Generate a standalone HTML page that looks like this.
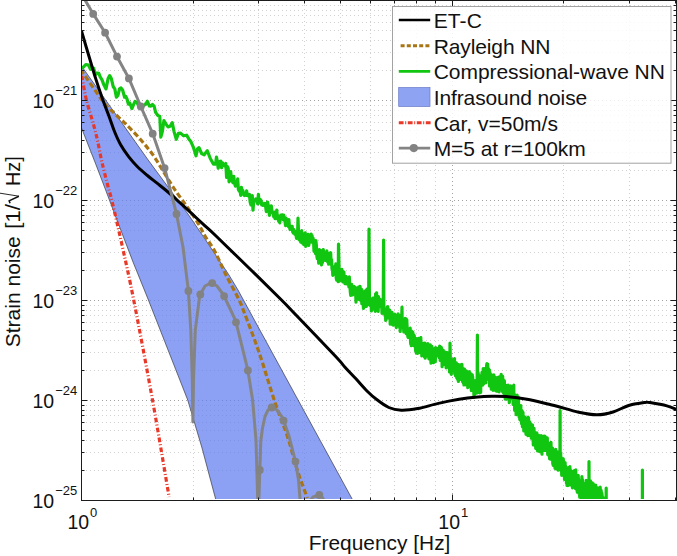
<!DOCTYPE html>
<html><head><meta charset="utf-8"><title>Strain noise</title>
<style>
html,body{margin:0;padding:0;background:#fff;}
body{width:677px;height:556px;overflow:hidden;}
svg{display:block;}
.t{font-family:"Liberation Sans",sans-serif;fill:#111;}
</style></head><body>
<svg width="677" height="556" viewBox="0 0 677 556">
<defs><clipPath id="pc"><rect x="81.5" y="0.5" width="595.0" height="498.5"/></clipPath></defs>
<rect width="677" height="556" fill="#fff"/>
<path d="M193.5 1 V500.5 M258.5 1 V500.5 M304.5 1 V500.5 M340.5 1 V500.5 M370.5 1 V500.5 M394.5 1 V500.5 M416.5 1 V500.5 M435.5 1 V500.5 M563.5 1 V500.5 M629.5 1 V500.5 M82 470.5 H676.5 M82 452.5 H676.5 M82 440.5 H676.5 M82 430.5 H676.5 M82 422.5 H676.5 M82 415.5 H676.5 M82 410.5 H676.5 M82 405.5 H676.5 M82 370.5 H676.5 M82 352.5 H676.5 M82 340.5 H676.5 M82 330.5 H676.5 M82 322.5 H676.5 M82 315.5 H676.5 M82 310.5 H676.5 M82 305.5 H676.5 M82 270.5 H676.5 M82 252.5 H676.5 M82 240.5 H676.5 M82 230.5 H676.5 M82 222.5 H676.5 M82 215.5 H676.5 M82 210.5 H676.5 M82 205.5 H676.5 M82 170.5 H676.5 M82 152.5 H676.5 M82 140.5 H676.5 M82 130.5 H676.5 M82 122.5 H676.5 M82 115.5 H676.5 M82 110.5 H676.5 M82 105.5 H676.5 M82 70.5 H676.5 M82 52.5 H676.5 M82 40.5 H676.5 M82 30.5 H676.5 M82 22.5 H676.5 M82 15.5 H676.5 M82 10.5 H676.5 M82 5.5 H676.5" stroke="#000" stroke-width="1" stroke-dasharray="1 3" fill="none" opacity="0.18"/>
<path d="M452.5 1 V500.5 M82 400.5 H676.5 M82 300.5 H676.5 M82 200.5 H676.5 M82 100.5 H676.5" stroke="#000" stroke-width="1" stroke-dasharray="1 3" fill="none" opacity="0.36"/>
<g clip-path="url(#pc)">
<path d="M81.5 66.0 L102.1 95.0 L148.2 160.0 L188.7 215.0 L205.0 239.0 L229.0 275.0 L238.0 290.0 L353.0 500.5 L216.0 500.5 L202.0 448.0 L187.7 400.0 L170.0 355.0 L148.4 300.0 L133.0 262.0 L115.0 215.0 L106.0 191.0 L95.7 164.0 L81.5 128.0Z" fill="#5f7bf0" fill-opacity="0.72" stroke="#222" stroke-width="0.6"/>
<path d="M81.5 71.0 C81.8 71.3 79.4 67.9 83.0 73.0 C86.6 78.1 98.7 95.7 103.2 101.7 C107.7 107.8 107.1 106.2 110.2 109.3 C113.3 112.4 119.2 117.8 121.9 120.4 C124.7 123.0 123.5 121.5 126.7 124.8 C129.9 128.1 136.7 135.1 141.2 140.3 C145.7 145.5 149.8 150.5 153.6 155.8 C157.4 161.2 160.4 166.9 163.9 172.4 C167.4 177.9 170.9 183.7 174.3 188.9 C177.8 194.1 181.7 199.3 184.6 203.4 C187.5 207.5 189.4 210.1 191.8 213.7 C194.2 217.3 196.8 221.1 199.0 224.8 C201.2 228.5 202.3 231.5 205.0 236.0 C207.7 240.5 211.6 245.3 215.0 251.7 C218.4 258.1 221.7 266.3 225.7 274.4 C229.7 282.4 236.0 293.6 239.1 300.0 C242.2 306.4 241.0 304.1 244.3 312.7 C247.6 321.3 253.6 336.6 258.8 351.7 C264.0 366.8 270.5 389.1 275.3 403.4 C280.1 417.6 283.9 425.7 287.7 437.2 C291.5 448.7 294.7 462.3 298.0 472.4 C301.3 482.5 305.8 493.7 307.4 498.0" fill="none" stroke="#a87414" stroke-width="3.2" stroke-dasharray="5.5 2.8"/>
<path d="M81.5 68.0 L83.3 67.2 L85.8 64.5 L88.4 65.1 L90.5 69.3 L92.0 69.0 L93.6 68.2 L95.7 74.4 L97.2 73.1 L98.8 73.4 L100.3 77.2 L101.9 79.6 L104.0 85.1 L106.0 88.9 L108.1 78.6 L109.7 75.6 L111.2 78.2 L113.3 86.8 L114.8 88.9 L116.4 97.2 L118.0 95.2 L119.5 88.9 L121.0 87.9 L122.6 90.0 L124.6 97.2 L125.8 96.4 L127.0 99.0 L128.4 104.2 L129.8 103.0 L131.9 108.6 L133.4 104.9 L135.0 101.5 L137.0 102.4 L139.1 107.1 L141.2 107.5 L143.2 105.8 L145.3 104.5 L147.4 101.3 L149.4 106.0 L150.9 106.1 L152.5 104.5 L154.1 106.2 L155.6 112.4 L157.7 115.3 L159.8 116.5 L160.8 137.2 L162.4 131.3 L163.9 120.7 L165.9 123.9 L168.0 126.9 L170.1 126.3 L172.2 122.7 L174.2 132.1 L176.3 139.3 L178.4 133.4 L180.5 133.1 L183.6 135.8 L186.7 135.2 L188.8 138.9 L190.8 141.4 L193.4 147.3 L196.0 155.8 L197.5 148.7 L199.0 147.6 L201.6 153.5 L204.2 154.8 L205.8 152.6 L207.3 150.7 L210.4 158.8 L213.5 164.1 L215.6 164.1 L216.5 157.0 L217.4 161.9 L218.2 168.2 L219.1 162.1 L219.9 161.5 L220.8 161.1 L221.6 167.7 L222.5 162.8 L223.3 165.0 L224.2 165.4 L225.0 166.3 L225.8 163.5 L226.6 177.5 L227.4 166.5 L228.2 168.1 L229.1 181.9 L229.9 171.9 L230.7 171.7 L231.5 179.9 L232.2 181.1 L233.0 182.7 L233.8 176.4 L234.6 183.5 L235.4 186.1 L236.1 182.6 L236.9 184.7 L237.7 178.9 L238.4 189.6 L239.2 191.1 L240.0 189.4 L240.7 195.3 L241.4 187.3 L242.2 190.9 L242.9 190.7 L243.7 194.5 L244.4 195.5 L245.1 194.7 L245.9 195.4 L246.6 190.9 L247.3 194.4 L248.0 195.6 L248.7 195.0 L249.4 194.4 L250.2 202.3 L250.9 204.8 L251.6 203.1 L252.3 195.6 L253.0 210.2 L253.6 202.2 L254.3 200.6 L255.0 200.3 L255.7 199.0 L256.4 199.3 L257.1 202.4 L257.7 203.8 L258.4 194.4 L259.1 201.4 L259.8 202.8 L260.4 199.6 L261.1 200.7 L261.7 204.9 L262.4 202.9 L263.0 205.4 L263.7 205.1 L264.3 204.6 L265.0 203.5 L265.6 206.4 L266.3 211.6 L266.9 208.1 L267.5 202.0 L268.2 204.8 L268.8 208.7 L269.4 215.4 L270.1 208.7 L270.7 212.5 L271.3 205.8 L271.9 210.5 L272.5 212.4 L273.2 214.1 L273.8 216.8 L274.4 212.3 L275.0 218.6 L275.6 215.6 L276.2 214.1 L276.8 210.0 L277.4 219.0 L278.0 215.6 L278.6 221.2 L279.2 221.8 L279.8 222.8 L280.3 218.4 L280.9 215.1 L281.5 217.9 L282.1 214.9 L282.7 216.8 L283.2 219.8 L283.8 215.2 L284.4 219.3 L285.0 221.0 L285.5 225.7 L286.1 218.2 L286.7 224.5 L287.2 219.8 L287.8 224.8 L288.3 226.4 L288.9 219.6 L289.4 227.0 L290.0 229.5 L290.5 226.1 L291.1 228.1 L291.6 227.5 L292.2 226.3 L292.7 232.0 L293.3 233.0 L293.8 229.7 L294.4 231.0 L294.9 234.3 L295.4 231.4 L296.0 234.7 L296.5 238.3 L297.0 235.3 L297.5 235.7 L298.0 218.0 L298.6 234.0 L299.1 239.8 L299.6 231.8 L300.1 233.8 L300.7 242.2 L301.2 242.1 L301.7 230.6 L302.2 242.9 L302.7 233.9 L303.2 238.8 L303.7 244.6 L304.2 241.5 L304.7 233.8 L305.2 232.8 L305.7 246.4 L306.2 242.4 L306.7 242.9 L307.2 236.2 L307.7 237.9 L308.2 234.3 L308.7 245.5 L309.2 243.0 L309.7 241.9 L310.2 240.0 L310.7 238.7 L311.2 234.0 L311.6 241.9 L312.1 235.7 L312.6 242.7 L313.1 238.2 L313.6 242.6 L314.0 251.3 L314.5 240.6 L315.0 248.1 L315.5 253.6 L315.9 240.6 L316.4 245.7 L316.9 256.5 L317.3 258.6 L317.8 258.1 L318.3 255.9 L318.7 263.2 L319.2 249.6 L319.6 252.4 L320.1 260.3 L320.5 250.4 L321.0 261.5 L321.5 264.9 L321.9 263.1 L322.4 262.6 L322.8 252.2 L323.3 249.6 L323.7 253.2 L324.2 255.0 L324.6 255.3 L325.0 260.5 L325.5 255.5 L325.9 258.4 L326.4 258.8 L326.8 250.9 L327.3 259.6 L327.7 262.1 L328.1 254.0 L328.6 264.1 L329.0 253.4 L329.4 258.6 L329.9 254.2 L330.3 254.9 L330.7 252.7 L331.1 264.5 L331.6 259.7 L332.0 268.9 L332.4 266.0 L332.8 275.3 L333.3 270.3 L333.7 267.4 L334.1 269.1 L334.5 274.2 L334.9 271.5 L335.4 268.5 L335.8 263.8 L336.2 277.7 L336.6 280.1 L337.0 278.6 L337.4 268.9 L337.8 275.1 L338.2 281.6 L338.5 244.0 L339.1 269.4 L339.5 281.2 L339.9 272.1 L340.3 280.5 L340.7 271.8 L341.1 279.5 L341.5 273.6 L341.9 269.3 L342.3 277.7 L342.7 281.9 L343.1 273.4 L343.5 273.6 L343.9 272.0 L344.3 280.8 L344.7 281.5 L345.0 283.7 L345.4 282.1 L345.8 278.1 L346.2 276.6 L346.6 283.9 L347.0 278.1 L347.4 282.1 L347.8 280.5 L348.2 283.5 L348.5 279.9 L348.9 287.0 L349.3 276.9 L349.7 285.8 L350.1 288.1 L350.4 292.8 L350.8 295.5 L351.2 286.0 L351.6 284.4 L351.9 292.1 L352.3 289.9 L352.7 294.9 L353.1 289.9 L353.4 292.5 L353.8 286.4 L354.2 288.4 L354.6 288.2 L354.9 288.7 L355.3 287.2 L355.7 294.1 L356.0 302.2 L356.4 293.4 L356.8 298.4 L357.1 299.2 L357.5 297.1 L357.8 291.5 L358.2 290.5 L358.6 287.0 L358.9 294.2 L359.3 299.7 L359.6 292.4 L360.0 286.4 L360.4 290.1 L360.7 292.4 L361.1 301.0 L361.4 289.0 L361.8 303.6 L362.1 290.2 L362.5 299.2 L362.8 294.0 L363.2 304.8 L363.5 308.5 L363.9 297.0 L364.2 301.3 L364.6 298.0 L364.9 304.3 L365.3 290.9 L365.6 303.9 L366.0 291.2 L366.3 306.4 L366.6 300.4 L367.0 289.0 L367.3 304.0 L367.7 298.1 L368.0 304.8 L368.4 296.1 L368.7 293.4 L369.0 229.0 L369.4 296.4 L369.7 303.1 L370.0 303.8 L370.4 305.7 L370.7 304.0 L371.0 299.7 L371.4 311.0 L371.7 301.4 L372.0 306.5 L372.4 305.4 L372.7 298.1 L373.0 301.7 L373.4 302.4 L373.7 301.2 L374.0 309.1 L374.3 298.7 L374.7 300.8 L375.0 297.2 L375.3 311.3 L375.6 293.8 L376.0 299.0 L376.3 296.4 L376.6 292.9 L376.9 307.3 L377.3 306.3 L377.6 297.2 L377.9 310.8 L378.2 311.3 L378.5 296.7 L378.9 305.5 L379.2 304.5 L379.5 302.9 L379.8 300.2 L380.1 299.3 L380.4 306.2 L380.7 306.0 L381.1 303.2 L381.4 307.7 L381.7 304.9 L382.0 313.3 L382.3 307.6 L382.6 311.6 L382.9 306.9 L383.2 312.9 L383.6 240.0 L383.9 310.3 L384.2 313.6 L384.5 310.0 L384.8 313.2 L385.1 315.8 L385.4 311.6 L385.7 320.4 L386.0 319.8 L386.3 313.7 L386.6 309.6 L386.9 312.4 L387.2 307.1 L387.5 317.4 L387.8 306.5 L388.1 317.9 L388.4 314.7 L388.7 313.9 L389.0 310.9 L389.3 314.5 L389.6 310.1 L389.9 311.0 L390.2 324.2 L390.5 323.7 L390.8 312.6 L391.1 316.3 L391.4 315.6 L391.7 315.4 L392.0 312.4 L392.3 324.5 L392.5 320.2 L392.8 316.7 L393.1 317.1 L393.4 325.2 L393.7 320.6 L394.0 318.6 L394.3 324.6 L394.6 314.2 L394.9 315.8 L395.1 322.1 L395.4 319.0 L395.7 315.3 L396.0 324.4 L396.3 327.6 L396.6 318.3 L396.9 323.4 L397.1 323.2 L397.4 325.0 L397.7 322.8 L398.0 313.8 L398.3 324.9 L398.6 319.7 L398.8 317.1 L399.1 315.0 L399.4 322.9 L399.7 327.7 L400.0 323.4 L400.2 331.5 L400.5 320.0 L400.8 322.3 L401.1 315.4 L401.3 324.4 L401.6 321.7 L402.0 307.0 L402.2 325.6 L402.4 327.4 L402.7 327.7 L403.0 319.7 L403.3 320.9 L403.5 323.3 L403.8 331.9 L404.1 319.3 L404.4 326.8 L404.6 330.4 L404.9 332.0 L405.2 318.4 L405.4 324.9 L405.7 325.7 L406.0 318.9 L406.2 333.7 L406.5 327.0 L406.8 319.7 L407.0 324.9 L407.3 331.1 L407.6 328.7 L407.8 336.3 L408.1 337.4 L408.4 329.6 L408.6 333.8 L408.9 332.6 L409.2 334.1 L409.4 332.0 L409.7 334.9 L409.9 335.2 L410.2 328.2 L410.5 340.9 L410.7 344.0 L411.0 341.0 L411.3 345.7 L411.5 331.0 L411.8 333.6 L412.0 339.6 L412.3 333.5 L412.5 338.6 L412.8 332.2 L413.1 336.2 L413.3 335.6 L413.6 339.9 L413.8 334.8 L414.1 345.8 L414.3 335.6 L414.6 340.0 L414.8 338.7 L415.1 341.3 L415.4 345.6 L415.6 350.9 L415.9 348.1 L416.1 345.5 L416.4 353.2 L416.6 351.2 L416.9 338.5 L417.1 347.2 L417.4 351.2 L417.6 353.4 L417.9 344.4 L418.1 347.3 L418.4 346.6 L418.6 338.3 L418.9 351.1 L419.1 342.7 L419.4 342.7 L419.6 352.3 L419.9 349.0 L420.1 349.9 L420.3 341.1 L420.6 338.1 L420.8 337.6 L421.1 349.9 L421.3 351.9 L421.6 343.0 L421.8 355.9 L422.1 355.2 L422.3 349.7 L422.5 345.9 L422.8 344.1 L423.0 345.0 L423.3 343.3 L423.5 348.5 L423.7 355.1 L424.0 345.1 L424.2 346.3 L424.5 357.0 L424.7 345.2 L424.9 343.2 L425.2 358.1 L425.4 351.1 L425.7 353.2 L425.9 348.9 L426.1 352.7 L426.4 349.9 L426.6 355.4 L426.8 356.2 L427.1 356.1 L427.3 354.6 L427.5 350.1 L427.8 343.7 L428.0 352.5 L428.2 344.7 L428.5 353.6 L428.7 344.6 L428.9 358.8 L429.2 351.6 L429.4 350.6 L429.6 354.7 L429.9 346.6 L430.1 355.0 L430.3 344.9 L430.6 357.3 L430.8 358.5 L431.0 363.1 L431.3 358.0 L431.5 356.6 L431.7 356.6 L431.9 346.3 L432.2 358.1 L432.4 352.4 L432.6 353.6 L432.9 352.3 L433.1 348.5 L433.3 352.2 L433.5 362.6 L433.8 361.2 L434.0 350.6 L434.2 361.3 L434.4 356.6 L434.7 352.2 L434.9 351.4 L435.1 353.7 L435.3 361.6 L435.6 347.5 L435.8 355.0 L436.0 356.6 L436.2 348.4 L436.4 348.6 L436.7 350.8 L436.9 353.3 L437.1 349.7 L437.3 352.3 L437.6 351.0 L437.8 352.2 L438.0 348.4 L438.2 355.8 L438.4 351.8 L438.7 355.2 L438.9 354.9 L439.1 348.8 L439.3 357.6 L439.5 346.7 L439.7 346.2 L440.0 349.1 L440.2 360.5 L440.4 347.4 L440.6 350.7 L440.8 352.9 L441.0 354.7 L441.3 347.4 L441.5 350.3 L441.7 361.3 L441.9 349.7 L442.1 366.7 L442.3 353.4 L442.5 363.5 L442.8 351.7 L443.0 363.9 L443.2 350.0 L443.4 363.5 L443.6 353.4 L443.8 355.3 L444.0 354.3 L444.3 359.4 L444.5 364.5 L444.7 355.4 L444.9 355.3 L445.1 363.5 L445.3 356.5 L445.5 352.2 L445.7 361.8 L445.9 359.8 L446.1 367.8 L446.4 364.6 L446.6 362.2 L446.8 353.5 L447.0 364.2 L447.2 365.3 L447.4 352.5 L447.6 359.6 L447.8 362.0 L448.0 357.9 L448.2 361.0 L448.4 359.2 L448.6 367.5 L448.8 357.2 L449.0 364.2 L449.3 360.5 L449.5 371.9 L449.7 360.7 L449.9 364.2 L450.0 343.0 L450.3 358.8 L450.5 364.8 L450.7 368.2 L450.9 365.6 L451.1 372.7 L451.3 374.4 L451.5 366.6 L451.7 370.3 L451.9 359.8 L452.1 370.7 L452.3 360.9 L452.5 360.2 L452.7 364.0 L452.9 359.5 L453.1 365.0 L453.3 363.8 L453.5 362.0 L453.7 362.3 L453.9 368.8 L454.1 369.2 L454.3 367.3 L454.5 358.5 L454.7 373.8 L454.9 366.0 L455.1 364.6 L455.3 370.0 L455.5 375.8 L455.7 375.4 L455.9 372.4 L456.1 367.9 L456.3 362.9 L456.5 368.8 L456.7 377.7 L456.9 363.8 L457.1 371.0 L457.3 369.2 L457.5 379.2 L457.6 369.8 L457.8 376.4 L458.0 374.9 L458.2 372.7 L458.4 381.5 L458.6 364.6 L458.8 379.8 L459.0 378.4 L459.2 367.9 L459.4 377.2 L459.6 379.6 L459.8 377.9 L460.0 379.0 L460.2 364.8 L460.3 373.6 L460.5 375.0 L460.7 371.2 L460.9 371.5 L461.1 370.3 L461.3 372.3 L461.5 372.3 L461.7 371.0 L461.9 364.3 L462.1 369.6 L462.3 377.9 L462.4 380.4 L462.6 381.8 L462.8 376.6 L463.0 368.6 L463.2 374.0 L463.4 383.2 L463.6 373.9 L463.8 375.7 L463.9 385.0 L464.1 370.4 L464.3 372.0 L464.5 369.2 L464.7 381.3 L464.9 373.1 L465.1 371.9 L465.3 378.3 L465.4 376.9 L465.6 381.9 L465.8 384.9 L466.0 378.9 L466.2 371.7 L466.4 371.0 L466.5 384.6 L466.7 383.0 L466.9 371.7 L467.1 372.1 L467.3 374.6 L467.5 380.6 L467.6 380.2 L467.8 387.6 L468.0 383.7 L468.2 378.5 L468.4 379.1 L468.6 386.8 L468.7 380.3 L468.9 379.4 L469.1 379.7 L469.3 371.6 L469.5 386.0 L469.6 376.1 L469.8 385.7 L470.0 386.2 L470.2 383.4 L470.4 375.8 L470.6 383.1 L470.7 382.9 L470.9 387.3 L471.1 373.8 L471.3 390.1 L471.4 390.5 L471.6 376.7 L471.8 387.0 L472.0 381.8 L472.2 379.1 L472.3 374.9 L472.5 382.9 L472.7 376.7 L472.9 388.0 L473.0 380.8 L473.2 389.0 L473.4 380.0 L473.6 385.3 L473.8 391.5 L473.9 394.8 L474.1 397.2 L474.3 389.0 L474.5 386.7 L474.6 385.0 L474.8 393.9 L475.0 392.0 L475.2 381.0 L475.3 388.0 L475.5 389.2 L475.7 380.7 L475.9 382.1 L476.0 385.2 L476.2 380.0 L476.4 383.6 L476.5 393.1 L476.7 382.7 L476.9 385.9 L477.1 385.7 L477.2 372.9 L477.4 335.0 L477.6 382.4 L477.8 377.3 L477.9 386.6 L478.1 372.7 L478.3 373.9 L478.4 392.1 L478.6 379.4 L478.8 383.9 L479.0 392.4 L479.1 376.5 L479.3 380.2 L479.5 375.8 L479.6 389.5 L479.8 391.9 L480.0 392.8 L480.1 387.5 L480.3 381.8 L480.5 389.0 L480.7 392.3 L480.8 384.5 L481.0 386.2 L481.2 384.0 L481.3 385.1 L481.5 375.0 L481.7 385.4 L481.8 377.2 L482.0 372.3 L482.2 374.0 L482.3 383.9 L482.5 379.7 L482.7 375.7 L482.8 385.0 L483.0 384.6 L483.2 368.5 L483.3 381.6 L483.5 378.3 L483.7 383.7 L483.8 374.2 L484.0 374.9 L484.2 371.3 L484.3 368.7 L484.5 382.9 L484.7 372.6 L484.8 375.2 L485.0 377.1 L485.1 382.4 L485.3 381.3 L485.5 382.1 L485.6 368.3 L485.8 382.7 L486.0 382.3 L486.1 368.9 L486.3 369.6 L486.5 379.7 L486.6 365.1 L486.8 367.8 L486.9 363.6 L487.1 370.0 L487.3 376.3 L487.4 364.0 L487.6 368.4 L487.7 364.0 L487.9 368.3 L488.1 378.6 L488.2 373.6 L488.4 374.7 L488.6 368.9 L488.7 373.1 L488.9 371.3 L489.0 375.7 L489.2 378.1 L489.4 369.8 L489.5 386.0 L489.7 385.1 L489.8 371.8 L490.0 374.4 L490.2 382.6 L490.3 385.3 L490.5 373.9 L490.6 382.0 L490.8 384.9 L490.9 383.4 L491.1 382.7 L491.3 389.2 L491.4 376.3 L491.6 374.8 L491.7 383.4 L491.9 375.6 L492.1 387.2 L492.2 382.1 L492.4 386.7 L492.5 386.8 L492.7 382.2 L492.8 380.4 L493.0 390.3 L493.2 382.6 L493.3 389.1 L493.5 381.5 L493.6 388.3 L493.8 374.8 L493.9 381.6 L494.1 376.1 L494.2 386.4 L494.4 378.2 L494.6 385.0 L494.7 390.0 L494.9 381.3 L495.0 380.8 L495.2 377.2 L495.3 384.7 L495.5 390.4 L495.6 386.8 L495.8 387.1 L495.9 378.3 L496.1 377.9 L496.2 388.4 L496.4 378.1 L496.6 391.2 L496.7 385.2 L496.9 380.8 L497.0 387.1 L497.2 390.6 L497.3 383.0 L497.5 377.8 L497.6 391.2 L497.8 382.1 L497.9 377.3 L498.1 378.5 L498.2 385.6 L498.4 381.0 L498.5 378.4 L498.7 383.3 L498.8 378.9 L499.0 390.5 L499.1 392.0 L499.3 385.9 L499.4 387.1 L499.6 384.5 L499.7 376.6 L499.9 385.0 L500.0 383.3 L500.2 381.9 L500.3 376.9 L500.5 382.7 L500.6 377.1 L500.8 384.7 L500.9 388.0 L501.1 379.5 L501.2 374.3 L501.4 378.8 L501.5 383.7 L501.7 389.0 L501.8 384.1 L502.0 386.3 L502.1 381.6 L502.3 385.8 L502.4 391.5 L502.6 376.3 L502.7 377.1 L502.8 379.4 L503.0 379.2 L503.1 385.5 L503.3 381.6 L503.4 389.3 L503.6 393.1 L503.7 384.3 L503.9 383.0 L504.0 380.6 L504.2 389.0 L504.3 380.6 L504.5 384.4 L504.6 394.3 L504.7 389.0 L504.9 385.5 L505.0 384.8 L505.2 399.1 L505.3 396.4 L505.5 385.1 L505.6 393.3 L505.8 397.2 L505.9 393.9 L506.1 390.3 L506.2 393.9 L506.3 393.0 L506.5 398.9 L506.6 388.6 L506.8 388.5 L506.9 397.1 L507.1 398.3 L507.2 386.5 L507.3 393.1 L507.5 393.0 L507.6 392.4 L507.8 393.4 L507.9 398.9 L508.1 385.1 L508.2 392.3 L508.3 389.0 L508.5 388.0 L508.6 397.6 L508.8 397.9 L508.9 390.2 L509.1 392.9 L509.2 392.8 L509.3 402.7 L509.5 400.3 L509.6 400.5 L509.8 392.6 L509.9 394.2 L510.0 388.7 L510.2 395.5 L510.3 394.2 L510.5 389.1 L510.6 385.9 L510.7 390.0 L510.9 388.7 L511.0 390.4 L511.2 386.2 L511.3 392.5 L511.4 398.3 L511.6 389.4 L511.7 387.9 L511.9 388.3 L512.0 397.4 L512.1 393.3 L512.3 396.8 L512.4 395.9 L512.6 387.1 L512.7 390.5 L512.8 397.1 L513.0 395.2 L513.1 404.5 L513.2 394.8 L513.4 399.2 L513.5 397.7 L513.7 390.6 L513.8 385.2 L513.9 400.1 L514.1 395.6 L514.2 395.7 L514.3 397.8 L514.5 394.4 L514.6 410.3 L514.8 399.4 L514.9 401.2 L515.0 407.6 L515.2 406.1 L515.3 395.3 L515.4 408.0 L515.6 397.2 L515.7 401.8 L515.8 403.0 L516.0 396.2 L516.1 414.6 L516.2 410.4 L516.4 398.1 L516.5 405.4 L516.7 396.7 L516.8 404.0 L516.9 399.3 L517.1 395.0 L517.2 411.4 L517.3 404.9 L517.5 398.8 L517.6 402.8 L517.7 409.3 L517.9 409.3 L518.0 405.7 L518.1 402.3 L518.3 404.2 L518.4 397.2 L518.5 400.5 L518.7 413.3 L518.8 407.6 L518.9 405.1 L519.1 417.0 L519.2 415.1 L519.3 415.4 L519.5 409.3 L519.6 418.2 L519.7 418.8 L519.9 419.8 L520.0 417.8 L520.1 410.1 L520.3 414.1 L520.4 417.5 L520.5 409.6 L520.7 405.8 L520.8 405.6 L520.9 415.8 L521.0 410.9 L521.2 419.9 L521.3 411.8 L521.4 419.8 L521.6 423.6 L521.7 410.4 L521.8 415.8 L522.0 412.5 L522.1 411.2 L522.2 415.2 L522.4 426.8 L522.5 425.1 L522.6 411.5 L522.7 422.7 L522.9 421.3 L523.0 412.3 L523.1 417.8 L523.3 415.7 L523.4 416.7 L523.5 417.4 L523.7 424.8 L523.8 430.9 L523.9 423.9 L524.0 423.9 L524.2 424.1 L524.3 424.5 L524.4 429.7 L524.6 420.2 L524.7 420.5 L524.8 420.7 L524.9 417.1 L525.1 417.9 L525.2 425.9 L525.3 418.7 L525.5 421.0 L525.6 429.7 L525.7 423.2 L525.8 425.5 L526.0 434.3 L526.1 428.8 L526.2 429.6 L526.3 430.5 L526.5 429.7 L526.6 428.3 L526.7 426.7 L526.9 421.5 L527.0 422.5 L527.1 427.6 L527.2 426.1 L527.4 427.8 L527.5 421.8 L527.6 430.1 L527.7 434.8 L527.9 435.6 L528.0 432.7 L528.1 417.1 L528.2 428.6 L528.4 434.0 L528.5 428.9 L528.6 417.9 L528.7 427.1 L528.9 433.2 L529.0 434.8 L529.1 434.5 L529.2 423.1 L529.4 431.7 L529.5 422.2 L529.6 421.8 L529.7 434.9 L529.9 429.4 L530.0 435.5 L530.1 432.9 L530.2 430.2 L530.4 428.9 L530.5 425.9 L530.6 424.5 L530.7 423.6 L530.9 425.1 L531.0 424.9 L531.1 425.4 L531.2 434.1 L531.3 438.2 L531.5 429.2 L531.6 424.6 L531.7 426.4 L531.8 426.4 L532.0 435.9 L532.1 427.9 L532.2 435.5 L532.3 428.8 L532.5 425.0 L532.6 437.4 L532.7 426.8 L532.8 429.0 L532.9 437.6 L533.1 441.4 L533.2 434.3 L533.3 445.0 L533.4 443.1 L533.6 440.5 L533.7 445.0 L533.8 433.7 L533.9 438.7 L534.0 428.4 L534.2 434.9 L534.3 435.4 L534.4 436.5 L534.5 443.8 L534.6 443.0 L534.8 432.4 L534.9 437.8 L535.0 443.5 L535.1 442.4 L535.2 441.4 L535.4 446.1 L535.5 446.0 L535.6 433.0 L535.7 447.9 L535.8 448.5 L536.0 440.4 L536.1 438.8 L536.2 448.7 L536.3 437.2 L536.4 440.6 L536.6 433.3 L536.7 441.7 L536.8 432.8 L536.9 440.8 L537.0 436.7 L537.2 442.0 L537.3 436.1 L537.4 444.0 L537.5 445.7 L537.6 451.0 L537.8 444.5 L537.9 446.0 L538.0 450.5 L538.1 450.5 L538.2 435.0 L538.3 446.5 L538.5 441.7 L538.6 449.3 L538.7 444.1 L538.8 447.4 L538.9 445.9 L539.0 436.7 L539.2 444.6 L539.3 444.2 L539.4 441.1 L539.5 438.1 L539.6 435.8 L539.8 438.5 L539.9 451.7 L540.0 439.4 L540.1 444.3 L540.2 440.2 L540.3 437.5 L540.5 441.1 L540.6 438.9 L540.7 443.5 L540.8 437.7 L540.9 446.3 L541.0 446.7 L541.1 435.5 L541.3 450.6 L541.4 438.8 L541.5 440.1 L541.6 435.9 L541.7 450.8 L541.8 444.7 L542.0 454.2 L542.1 447.0 L542.2 449.2 L542.3 441.5 L542.4 437.0 L542.5 440.0 L542.6 450.9 L542.8 446.2 L542.9 441.8 L543.0 439.0 L543.1 446.4 L543.2 448.0 L543.3 442.6 L543.5 444.0 L543.6 447.9 L543.7 446.8 L543.8 448.2 L543.9 436.0 L544.0 443.2 L544.1 445.9 L544.2 440.0 L544.4 442.2 L544.5 442.3 L544.6 439.9 L544.7 436.1 L544.8 446.6 L544.9 442.2 L545.0 450.5 L545.2 447.5 L545.3 436.6 L545.4 450.1 L545.5 437.1 L545.6 445.4 L545.7 440.4 L545.8 439.6 L545.9 443.5 L546.1 447.9 L546.2 446.8 L546.3 442.9 L546.4 440.9 L546.5 449.3 L546.6 441.4 L546.7 450.6 L546.8 440.1 L547.0 442.6 L547.1 445.2 L547.2 448.0 L547.3 437.9 L547.4 448.3 L547.5 447.5 L547.6 442.0 L547.7 454.5 L547.8 442.7 L548.0 446.6 L548.1 445.3 L548.2 447.9 L548.3 443.3 L548.4 447.9 L548.5 447.0 L548.6 455.2 L548.7 445.8 L548.8 448.3 L549.0 448.3 L549.1 454.0 L549.2 450.3 L549.3 443.6 L549.4 453.5 L549.5 452.8 L549.6 458.8 L549.7 444.1 L549.8 448.3 L549.9 453.7 L550.1 445.1 L550.2 459.1 L550.3 453.2 L550.4 453.2 L550.5 447.7 L550.6 456.7 L550.7 444.5 L550.8 447.2 L550.9 454.1 L551.0 442.3 L551.1 447.8 L551.3 459.1 L551.4 454.3 L551.5 452.2 L551.6 453.5 L551.7 447.5 L551.8 455.9 L551.9 449.6 L552.0 458.7 L552.1 453.0 L552.2 455.0 L552.3 453.3 L552.5 448.1 L552.6 451.8 L552.7 458.9 L552.8 463.9 L552.9 458.7 L553.0 462.0 L553.1 456.9 L553.2 465.3 L553.3 464.0 L553.4 455.8 L553.5 457.1 L553.6 463.4 L553.7 454.9 L553.9 449.8 L554.0 461.9 L554.1 461.0 L554.2 452.5 L554.3 465.4 L554.4 462.0 L554.5 453.9 L554.6 456.9 L554.7 457.7 L554.8 451.9 L554.9 458.0 L555.0 468.3 L555.1 459.5 L555.2 453.5 L555.3 454.1 L555.4 458.2 L555.6 452.3 L555.7 449.3 L555.8 467.0 L555.9 457.6 L556.0 454.7 L556.1 468.9 L556.2 459.1 L556.3 453.9 L556.4 462.6 L556.5 460.2 L556.6 467.4 L556.7 468.3 L556.8 465.6 L556.9 466.4 L557.0 456.5 L557.1 454.2 L557.2 464.2 L557.3 463.4 L557.5 461.7 L557.6 455.0 L557.7 467.9 L557.8 451.8 L557.9 454.0 L558.0 457.3 L558.1 458.5 L558.2 470.2 L558.3 452.4 L558.4 464.8 L558.5 466.9 L558.6 461.6 L558.7 468.6 L558.8 456.7 L558.9 456.5 L559.0 459.2 L559.1 461.4 L559.2 457.2 L559.3 465.6 L559.4 467.5 L559.5 469.3 L559.6 456.6 L559.7 466.6 L559.8 461.9 L559.9 464.0 L560.1 410.7 L560.2 462.0 L560.3 469.8 L560.4 463.2 L560.5 468.7 L560.6 461.7 L560.7 453.3 L560.8 468.5 L560.9 458.3 L561.0 469.7 L561.1 457.2 L561.2 459.8 L561.3 465.1 L561.4 464.8 L561.5 461.4 L561.6 469.1 L561.7 475.3 L561.8 460.2 L561.9 458.4 L562.0 464.0 L562.1 470.5 L562.2 460.4 L562.3 463.1 L562.4 468.8 L562.5 474.1 L562.6 461.3 L562.7 463.5 L562.8 464.4 L562.9 470.1 L563.0 470.8 L563.1 462.7 L563.2 471.0 L563.3 458.8 L563.4 473.2 L563.5 460.6 L563.6 461.2 L563.7 467.6 L563.8 462.5 L563.9 463.7 L564.0 472.1 L564.1 467.5 L564.2 462.7 L564.3 470.0 L564.4 466.1 L564.5 479.4 L564.6 472.8 L564.7 470.2 L564.8 470.1 L564.9 465.7 L565.0 470.2 L565.1 462.5 L565.2 472.7 L565.3 474.7 L565.4 465.5 L565.5 468.2 L565.6 468.2 L565.7 475.3 L565.8 479.4 L565.9 472.9 L566.0 467.9 L566.1 469.6 L566.2 473.8 L566.3 472.7 L566.4 481.1 L566.5 483.3 L566.6 481.2 L566.7 481.0 L566.8 470.7 L566.9 479.5 L567.0 485.5 L567.1 482.2 L567.2 482.8 L567.3 468.0 L567.4 476.4 L567.5 480.4 L567.6 467.8 L567.7 483.0 L567.8 473.4 L567.9 485.6 L568.0 471.8 L568.1 472.1 L568.2 474.9 L568.3 481.2 L568.4 479.4 L568.5 467.5 L568.6 476.6 L568.7 477.3 L568.8 469.0 L568.9 481.4 L569.0 481.1 L569.1 480.5 L569.2 482.3 L569.3 479.7 L569.4 478.8 L569.5 469.1 L569.6 479.2 L569.7 480.9 L569.8 485.0 L569.9 466.5 L569.9 480.9 L570.0 475.5 L570.1 474.2 L570.2 473.2 L570.3 475.4 L570.4 469.8 L570.5 478.6 L570.6 482.2 L570.7 478.1 L570.8 472.5 L570.9 473.0 L571.0 474.8 L571.1 473.8 L571.2 481.3 L571.3 476.4 L571.4 477.6 L571.5 484.6 L571.6 476.2 L571.7 484.8 L571.8 474.8 L571.9 483.3 L572.0 483.5 L572.1 485.1 L572.2 473.5 L572.3 478.9 L572.4 480.7 L572.4 487.8 L572.5 471.5 L572.6 473.6 L572.7 474.4 L572.8 484.2 L572.9 485.6 L573.0 485.3 L573.1 479.7 L573.2 477.7 L573.3 471.2 L573.4 474.3 L573.5 485.4 L573.6 471.7 L573.7 474.1 L573.8 481.1 L573.9 472.3 L574.0 473.3 L574.1 484.9 L574.2 479.6 L574.3 470.7 L574.3 482.1 L574.4 474.7 L574.5 481.4 L574.6 483.5 L574.7 479.6 L574.8 482.9 L574.9 472.6 L575.0 475.0 L575.1 476.4 L575.2 478.6 L575.3 481.8 L575.4 488.4 L575.5 482.9 L575.6 481.4 L575.7 474.0 L575.8 469.9 L575.8 484.4 L575.9 481.8 L576.0 478.3 L576.1 477.6 L576.2 482.2 L576.3 475.7 L576.4 486.2 L576.5 476.9 L576.6 475.3 L576.7 485.6 L576.8 485.6 L576.9 484.2 L577.0 490.8 L577.1 481.6 L577.2 490.6 L577.2 488.2 L577.3 492.1 L577.4 489.4 L577.5 479.4 L577.6 489.7 L577.7 482.3 L577.8 477.9 L577.9 485.0 L578.0 476.1 L578.1 488.2 L578.2 475.4 L578.3 480.4 L578.4 483.2 L578.4 477.9 L578.5 482.8 L578.6 488.3 L578.7 486.0 L578.8 486.6 L578.9 487.1 L579.0 493.5 L579.1 484.4 L579.2 486.4 L579.3 480.7 L579.4 481.1 L579.5 484.6 L579.5 488.6 L579.6 492.3 L579.7 497.2 L579.8 482.9 L579.9 494.4 L580.0 481.5 L580.1 494.1 L580.2 485.4 L580.3 481.5 L580.4 491.2 L580.5 487.3 L580.5 487.1 L580.6 480.9 L580.7 495.8 L580.8 490.4 L580.9 483.2 L581.0 484.0 L581.1 497.9 L581.2 480.8 L581.3 493.8 L581.4 480.5 L581.5 494.6 L581.5 487.4 L581.6 481.8 L581.7 489.5 L581.8 482.9 L581.9 476.5 L582.0 482.5 L582.1 490.5 L582.2 482.8 L582.3 494.6 L582.4 479.4 L582.4 492.0 L582.5 486.4 L582.6 487.9 L582.7 491.3 L582.8 496.3 L582.9 494.0 L583.0 489.3 L583.1 496.6 L583.2 488.7 L583.2 487.6 L583.3 497.9 L583.4 484.5 L583.5 483.4 L583.6 485.0 L583.7 488.1 L583.8 496.1 L583.9 500.0 L584.0 484.7 L584.0 486.5 L584.1 490.5 L584.2 483.7 L584.3 489.8 L584.4 495.4 L584.5 491.6 L584.6 487.0 L584.7 491.0 L584.8 489.2 L584.8 497.7 L584.9 493.1 L585.0 492.8 L585.1 490.9 L585.2 495.4 L585.3 492.6 L585.4 496.0 L585.5 490.3 L585.6 485.0 L585.6 487.6 L585.7 498.4 L585.8 493.2 L585.9 483.4 L586.0 484.5 L586.1 480.3 L586.2 487.9 L586.3 494.7 L586.3 496.0 L586.4 481.4 L586.5 483.8 L586.6 490.2 L586.7 485.0 L586.8 500.3 L586.9 487.9 L587.0 488.3 L587.0 496.0 L587.1 481.2 L587.2 497.0 L587.3 500.3 L587.4 494.8 L587.5 493.5 L587.6 488.7 L587.6 500.0 L587.7 490.8 L587.8 496.6 L587.9 498.0 L588.0 494.7 L588.1 499.0 L588.2 494.3 L588.3 487.9 L588.3 493.3 L588.4 487.7 L588.5 486.7 L588.6 487.5 L588.7 487.8 L588.8 486.6 L588.9 491.0 L588.9 496.9 L589.0 461.5 L589.1 499.8 L589.2 491.4 L589.3 488.7 L589.4 498.4 L589.5 492.7 L589.5 499.5 L589.6 493.7 L589.7 488.9 L589.8 491.8 L589.9 488.5 L590.0 483.2 L590.1 495.1 L590.1 483.9 L590.2 483.6 L590.3 496.0 L590.4 491.1 L590.5 480.9 L590.6 497.6 L590.7 485.9 L590.7 484.9 L590.8 487.5 L590.9 499.8 L591.0 491.2 L591.1 482.7 L591.2 485.8 L591.3 483.9 L591.3 482.6 L591.4 496.3 L591.5 485.5 L591.6 490.7 L591.7 487.1 L591.8 488.2 L591.9 492.1 L591.9 482.9 L592.0 496.3 L592.1 499.5 L592.2 482.8 L592.3 498.8 L592.4 485.9 L592.4 491.2 L592.5 490.2 L592.6 492.1 L592.7 499.8 L592.8 489.7 L592.9 486.1 L592.9 491.9 L593.0 492.9 L593.1 490.2 L593.2 483.5 L593.3 491.8 L593.4 497.7 L593.4 487.0 L593.5 488.0 L593.6 489.0 L593.7 498.7 L593.8 489.1 L593.9 497.1 L594.0 497.6 L594.0 486.5 L594.1 494.6 L594.2 488.1 L594.3 490.2 L594.4 503.3 L594.5 494.9 L594.5 487.4 L594.6 499.2 L594.7 490.1 L594.8 497.2 L594.9 496.9 L595.0 498.1 L595.0 500.7 L595.1 498.3 L595.2 495.1 L595.3 501.2 L595.4 492.0 L595.4 502.3 L595.5 489.7 L595.6 502.5 L595.7 485.2 L595.8 488.4 L595.9 488.4 L595.9 491.6 L596.0 487.7 L596.1 499.0 L596.2 503.9 L596.3 490.5 L596.4 501.0 L596.4 493.1 L596.5 495.4 L596.6 491.9 L596.7 495.0 L596.8 489.3 L596.8 490.0 L596.9 502.1 L597.0 493.7 L597.1 487.7 L597.2 496.2 L597.3 490.7 L597.3 502.0 L597.4 496.8 L597.5 488.8 L597.6 488.8 L597.7 499.8 L597.7 488.6 L597.8 495.9 L597.9 500.7 L598.0 499.3 L598.1 496.3 L598.2 489.6 L598.2 488.8 L598.3 496.5 L598.4 490.4 L598.5 488.0 L598.6 498.1 L598.6 499.4 L598.7 491.2 L598.8 491.6 L598.9 494.9 L599.0 501.3 L599.0 500.9 L599.1 494.4 L599.2 493.7 L599.3 502.3 L599.4 505.9 L599.5 491.6 L599.5 506.5 L599.6 504.5 L599.7 494.0 L599.8 496.9 L599.9 500.4 L599.9 506.8 L600.0 496.0 L600.1 497.7 L600.2 487.2 L600.3 492.1 L600.3 498.0 L600.4 499.4 L600.5 503.6 L600.6 499.8 L600.7 492.0 L600.7 497.3 L600.8 498.1 L600.9 498.2 L601.0 490.0 L601.1 497.9 L601.1 493.8 L601.2 490.7 L601.3 501.4 L601.4 493.7 L601.5 500.6 L601.5 501.0 L601.6 506.3 L601.7 498.4 L601.8 494.8 L601.9 493.2 L601.9 493.1 L602.0 499.8 L602.1 494.6 L602.2 503.0 L602.3 501.4 L602.3 508.5 L602.4 509.4 L602.5 507.1 L602.6 507.0 L602.6 507.7 L602.7 509.5 L602.8 499.4 L602.9 511.7 L603.0 497.4 L603.0 502.0 L603.1 509.8 L603.2 499.7 L603.3 503.2 L603.4 499.4 L603.4 504.9 L603.5 500.3 L603.6 513.7 L603.7 502.3 L603.8 506.4 L603.8 518.4 L603.9 502.3 L604.0 515.0 L604.1 510.8 L604.1 500.3 L604.2 509.6 L604.3 501.4 L604.4 513.4 L604.5 506.5 L604.5 509.8 L604.6 508.4 L604.7 511.1 L604.8 506.9 L604.9 514.2 L604.9 517.5 L605.0 502.7 L605.1 514.4 L605.2 509.4 L605.2 509.9 L605.3 503.1 L605.4 506.0 L605.5 506.6 L605.6 505.1 L605.6 503.2 L605.7 511.7 L605.8 513.4 L605.9 507.4 L605.9 499.1 L606.0 511.6 L606.1 501.8 L606.2 488.0 L606.2 506.9 L606.3 509.2 L606.4 502.7 L606.5 507.4 L606.6 505.0 L606.6 504.3 L606.7 509.9 L606.8 515.7 L606.9 504.9 L606.9 501.1 L607.0 517.8 L607.1 512.4 L607.2 502.6 L607.3 501.8 L607.3 511.8 L607.4 508.9 L607.5 502.1 L607.6 515.6 L607.6 513.6 L607.7 502.2 L607.8 514.6 L607.9 507.3 L607.9 514.2 L608.0 500.9 L608.1 514.7 L608.2 505.7 L608.2 506.5 L608.3 510.5 L608.4 516.9 L608.5 506.3 L608.6 505.8 L608.6 509.8 L608.7 506.5 L608.8 505.3 L608.9 510.5 L608.9 510.9 L609.0 509.8 L609.1 507.0 L609.2 507.5 L609.2 515.3 L609.3 516.0 L609.4 505.7 L609.5 513.1 L609.5 508.0 L609.6 511.7 L609.7 509.7 L609.8 515.8 L609.8 510.2 L609.9 510.5 L610.0 515.7 L610.1 518.5 L610.1 512.7 L610.2 505.2 L610.3 506.9 L610.4 515.1 L610.5 503.8 L610.5 510.9 L610.6 514.7 L610.7 508.9 L610.8 507.9 L610.8 508.0 L610.9 511.5 L611.0 509.0 L611.1 514.6 L611.1 501.0 L611.2 514.6 L611.3 519.1 L611.4 517.1 L611.4 503.5 L611.5 504.5 L611.6 513.7 L611.7 508.3 L611.7 507.2 L611.8 512.9 L611.9 518.3 L612.0 506.1 L612.0 516.3 L612.1 503.2 L612.2 504.8 L612.2 507.3 L612.3 503.4 L612.4 501.4 L612.5 514.4 L612.5 505.7 L612.6 516.5 L612.7 507.5 L612.8 505.8 L612.8 509.8 L612.9 515.3 L613.0 506.4 L613.1 506.5 L613.1 509.7 L613.2 506.2 L613.3 506.5 L613.4 517.9 L613.4 510.1 L613.5 505.0 L613.6 502.3 L613.7 518.0 L613.7 517.5 L613.8 508.1 L613.9 520.0 L614.0 517.3 L614.0 518.1 L614.1 509.1 L614.2 518.6 L614.3 501.5 L614.3 506.6 L614.4 519.9 L614.5 519.4 L614.5 515.2 L614.6 518.5 L614.7 507.9 L614.8 510.0 L614.8 504.0 L614.9 505.0 L615.0 513.0 L615.1 505.6 L615.1 506.0 L615.2 504.6 L615.3 515.9 L615.4 507.6 L615.4 502.4 L615.5 519.3 L615.6 516.7 L615.6 504.9 L615.7 506.9 L615.8 512.7 L615.9 504.7 L615.9 510.0 L616.0 505.5 L616.1 518.8 L616.2 505.1 L616.2 512.1 L616.3 514.6 L616.4 508.6 L616.4 514.2 L616.5 515.0 L616.6 515.2 L616.7 523.1 L616.7 507.7 L616.8 522.2 L616.9 516.4 L617.0 508.4 L617.0 522.8 L617.1 510.1 L617.2 514.7 L617.2 514.0 L617.3 514.9 L617.4 510.6 L617.5 506.9 L617.5 520.3 L617.6 507.5 L617.7 524.3 L617.7 513.1 L617.8 520.8 L617.9 518.2 L618.0 506.8 L618.0 514.8 L618.1 516.5 L618.2 521.3 L618.2 519.7 L618.3 520.0 L618.4 521.9 L618.5 515.9 L618.5 521.5 L618.6 514.9 L618.7 524.3 L618.8 508.4 L618.8 518.9 L618.9 514.4 L619.0 509.9 L619.0 511.0 L619.1 523.8 L619.2 516.2 L619.3 515.4 L619.3 525.5 L619.4 511.0 L619.5 520.7 L619.5 519.6 L619.6 521.9 L619.7 509.8 L619.8 514.7 L619.8 515.0 L619.9 518.2 L620.0 525.4 L620.0 525.2 L620.1 527.4 L620.2 524.9 L620.2 515.7 L620.3 513.2 L620.4 511.6 L620.5 511.4 L620.5 519.2 L620.6 509.3 L620.7 517.5 L620.7 519.0 L620.8 514.2 L620.9 519.9 L621.0 528.1 L621.0 528.5 L621.1 515.9 L621.2 514.2 L621.2 523.6 L621.3 514.3 L621.4 521.6 L621.5 524.7 L621.5 517.5 L621.6 518.6 L621.7 521.2 L621.7 514.6 L621.8 513.8 L621.9 528.2 L621.9 519.5 L622.0 510.7 L622.1 515.9 L622.2 516.1 L622.2 523.7 L622.3 527.9 L622.4 516.3 L622.4 518.5 L622.5 521.1 L622.6 522.5 L622.6 515.5 L622.7 517.1 L622.8 526.3 L622.9 524.9 L622.9 518.7 L623.0 520.5 L623.1 510.4 L623.1 514.2 L623.2 523.6 L623.3 525.4 L623.3 520.2 L623.4 522.4 L623.5 529.0 L623.5 524.0 L623.6 512.7 L623.7 514.8 L623.8 526.2 L623.8 510.0 L623.9 520.3 L624.0 511.2 L624.0 526.5 L624.1 515.2 L624.2 525.1 L624.2 517.3 L624.3 523.1 L624.4 516.4 L624.4 530.4 L624.5 525.1 L624.6 524.7 L624.7 516.9 L624.7 518.4 L624.8 530.0 L624.9 528.7 L624.9 518.9 L625.0 515.8 L625.1 512.8 L625.1 527.3 L625.2 517.4 L625.3 513.2 L625.3 525.0 L625.4 529.8 L625.5 515.4 L625.6 517.4 L625.6 515.5 L625.7 515.1 L625.8 527.5 L625.8 522.8 L625.9 522.1 L626.0 521.9 L626.0 513.8 L626.1 521.7 L626.2 523.9 L626.2 519.4 L626.3 524.9 L626.4 520.1 L626.4 512.7 L626.5 520.9 L626.6 518.8 L626.6 524.3 L626.7 531.0 L626.8 518.2 L626.9 526.3 L626.9 524.2 L627.0 517.7 L627.1 518.2 L627.1 517.2 L627.2 512.6 L627.3 527.2 L627.3 521.0 L627.4 514.9 L627.5 513.6 L627.5 519.1 L627.6 528.4 L627.7 513.7 L627.7 529.4 L627.8 526.4 L627.9 522.2 L627.9 529.9 L628.0 529.0 L628.1 521.0 L628.1 520.7 L628.2 522.9 L628.3 527.1 L628.3 513.9 L628.4 513.8 L628.5 518.7 L628.5 521.6 L628.6 520.3 L628.7 515.9 L628.7 514.4 L628.8 516.4 L628.9 522.7 L628.9 528.6 L629.0 513.9 L629.1 527.2 L629.1 526.3 L629.2 520.1 L629.3 527.1 L629.4 526.6 L629.4 514.0 L629.5 523.3 L629.6 530.6 L629.6 518.1 L629.7 520.6 L629.8 518.9 L629.8 525.0 L629.9 530.6 L630.0 515.1 L630.0 524.4 L630.1 528.4 L630.2 529.0 L630.2 524.7 L630.3 531.3 L630.4 518.3 L630.4 525.1 L630.5 523.5 L630.6 517.4 L630.6 516.8 L630.7 530.1 L630.8 525.2 L630.8 528.5 L630.9 528.7 L631.0 523.5 L631.0 527.9 L631.1 518.7 L631.2 526.8 L631.2 531.7 L631.3 535.7 L631.3 517.2 L631.4 520.7 L631.5 523.1 L631.5 529.2 L631.6 531.1 L631.7 520.2 L631.7 536.7 L631.8 528.4 L631.9 524.2 L631.9 524.1 L632.0 534.9 L632.1 531.3 L632.1 527.4 L632.2 524.8 L632.3 525.9 L632.3 530.4 L632.4 524.9 L632.5 534.6 L632.5 524.6 L632.6 528.0 L632.7 527.5 L632.7 534.8 L632.8 526.7 L632.9 535.8 L632.9 527.8 L633.0 521.9 L633.1 532.0 L633.1 525.2 L633.2 532.1 L633.3 522.7 L633.3 524.9 L633.4 528.4 L633.5 523.0 L633.5 523.4 L633.6 523.2 L633.7 526.4 L633.7 519.9 L633.8 525.5 L633.8 521.0 L633.9 524.2 L634.0 521.8 L634.0 521.3 L634.1 521.1 L634.2 527.6 L634.2 529.6 L634.3 528.7 L634.4 525.5 L634.4 533.5 L634.5 519.9 L634.6 533.5 L634.6 523.1 L634.7 533.7 L634.8 534.7 L634.8 520.8 L634.9 536.4 L635.0 522.2 L635.0 537.8 L635.1 537.2 L635.1 535.6 L635.2 533.4 L635.3 537.1 L635.3 535.6 L635.4 537.5 L635.5 532.8 L635.5 521.9 L635.6 523.6 L635.7 532.4 L635.7 528.5 L635.8 523.9 L635.9 526.1 L635.9 525.6 L636.0 522.6 L636.0 528.7 L636.1 525.3 L636.2 525.9 L636.2 522.9 L636.3 526.9 L636.4 537.1 L636.4 538.0 L636.5 529.9 L636.6 537.8 L636.6 524.4 L636.7 527.1 L636.8 536.3 L636.8 523.0 L636.9 526.2 L636.9 531.1 L637.0 529.7 L637.1 521.8 L637.1 530.7 L637.2 528.1 L637.3 537.8 L637.3 521.5 L637.4 523.6 L637.5 538.1 L637.5 527.0 L637.6 531.4 L637.6 534.6 L637.7 524.3 L637.8 536.4 L637.8 530.8 L637.9 538.1 L638.0 521.5 L638.0 535.0 L638.1 522.3 L638.2 523.3 L638.2 524.2 L638.3 528.0 L638.3 528.1 L638.4 534.9 L638.5 531.8 L638.5 535.8 L638.6 526.5 L638.7 527.7 L638.7 522.1 L638.8 537.8 L638.9 520.9 L638.9 523.0 L639.0 530.4 L639.0 521.7 L639.1 536.8 L639.2 535.0 L639.2 526.2 L639.3 533.7 L639.4 533.2 L639.4 521.4 L639.5 531.1 L639.5 524.2 L639.6 531.2 L639.7 528.6 L639.7 535.7 L639.8 533.6 L639.9 534.0 L639.9 523.4 L640.0 525.0 L640.0 534.8 L640.1 533.0 L640.2 522.2 L640.2 539.5 L640.3 522.1 L640.4 530.0 L640.4 525.9 L640.5 525.5 L640.6 537.1 L640.6 535.6 L640.7 527.5 L640.7 525.4 L640.8 532.2 L640.9 530.0 L640.9 524.5 L641.0 528.0 L641.0 522.8 L641.1 529.6 L641.2 536.2 L641.2 538.8 L641.3 523.8 L641.4 540.2 L641.4 531.8 L641.5 527.7 L641.5 533.4 L641.6 537.1 L641.7 520.8 L641.7 532.2 L641.8 532.3 L641.9 532.3 L641.9 530.3 L642.0 521.6 L642.0 524.5 L642.1 529.9 L642.2 541.1 L642.2 524.9 L642.3 533.4 L642.4 531.2 L642.4 470.0 L642.5 541.5 L642.5 539.3 L642.6 535.7 L642.7 536.8 L642.7 533.1 L642.8 533.2 L642.8 525.0 L642.9 526.9 L643.0 535.1 L643.0 537.8 L643.1 526.1 L643.2 531.6 L643.2 534.4 L643.3 533.6 L643.3 534.8 L643.4 532.1 L643.5 535.1 L643.5 532.7 L643.6 530.7 L643.6 538.0 L643.7 531.7 L643.8 537.7 L643.8 539.4 L643.9 532.4 L644.0 526.1 L644.0 533.9 L644.1 538.4 L644.1 530.4 L644.2 533.5 L644.3 529.3 L644.3 531.4 L644.4 534.1 L644.4 540.9 L644.5 539.2 L644.6 534.5 L644.6 531.1 L644.7 538.5 L644.7 542.1 L644.8 542.9 L644.9 525.7 L644.9 533.5 L645.0 539.3 L645.1 541.6 L645.1 541.6 L645.2 530.8 L645.2 537.8 L645.3 529.4 L645.4 532.4 L645.4 529.0 L645.5 526.8 L645.5 533.4 L645.6 537.6 L645.7 542.0 L645.7 531.3 L645.8 543.1 L645.8 537.0 L645.9 529.1 L646.0 533.4 L646.0 533.9 L646.1 531.2 L646.1 540.7 L646.2 541.4 L646.3 527.5 L646.3 543.1 L646.4 528.4 L646.4 531.0 L646.5 542.0 L646.6 535.3 L646.6 540.1 L646.7 540.9 L646.7 533.2 L646.8 535.5 L646.9 527.9 L646.9 535.4 L647.0 535.0 L647.0 532.1 L647.1 529.6 L647.2 529.0 L647.2 545.8 L647.3 542.0 L647.3 535.1 L647.4 530.9 L647.5 531.8 L647.5 533.7 L647.6 532.7 L647.6 531.8 L647.7 535.5 L647.8 541.5 L647.8 529.2 L647.9 544.6 L647.9 544.1 L648.0 544.5 L648.1 543.3 L648.1 543.9 L648.2 533.7 L648.2 532.6 L648.3 543.5 L648.4 545.6 L648.4 533.7 L648.5 530.5 L648.5 534.0 L648.6 533.1 L648.7 536.7 L648.7 543.5 L648.8 536.5 L648.8 542.0 L648.9 533.0 L649.0 539.0 L649.0 547.9 L649.1 536.9 L649.1 540.1 L649.2 541.6 L649.3 538.6 L649.3 529.5 L649.4 545.2 L649.4 542.7 L649.5 540.0 L649.5 549.1 L649.6 535.8 L649.7 546.7 L649.7 541.1 L649.8 543.0 L649.8 546.9 L649.9 546.4 L650.0 537.4 L650.0 535.7 L650.1 542.3 L650.1 548.9 L650.2 543.6 L650.3 542.9 L650.3 547.3 L650.4 550.7 L650.4 548.1 L650.5 533.7 L650.6 541.1 L650.6 547.7 L650.7 535.0 L650.7 544.7 L650.8 536.8 L650.8 531.0 L650.9 537.8 L651.0 537.6 L651.0 543.0 L651.1 537.8 L651.1 538.7 L651.2 542.8 L651.3 545.1 L651.3 536.4 L651.4 535.4 L651.4 543.9 L651.5 543.2 L651.5 536.4 L651.6 536.2 L651.7 543.4 L651.7 539.4 L651.8 545.7 L651.8 535.1 L651.9 531.5 L652.0 535.4 L652.0 545.9 L652.1 539.5 L652.1 544.8 L652.2 545.8 L652.2 540.4 L652.3 543.8 L652.4 543.1 L652.4 532.3 L652.5 546.4 L652.5 539.3 L652.6 531.4 L652.7 538.7 L652.7 528.5 L652.8 539.9 L652.8 534.1 L652.9 532.4 L652.9 538.7 L653.0 548.4 L653.1 534.1 L653.1 541.6 L653.2 549.5 L653.2 537.7 L653.3 544.5 L653.3 533.6 L653.4 533.0 L653.5 537.9 L653.5 548.1 L653.6 550.5 L653.6 548.8 L653.7 541.2 L653.8 540.7 L653.8 546.0 L653.9 540.2 L653.9 541.8 L654.0 535.3 L654.0 536.4 L654.1 550.3 L654.2 547.4 L654.2 538.1 L654.3 541.6 L654.3 547.2 L654.4 549.3 L654.4 551.9 L654.5 541.2 L654.6 539.2 L654.6 539.3 L654.7 543.5 L654.7 549.2 L654.8 542.2 L654.8 538.3 L654.9 537.0 L655.0 548.9 L655.0 549.6 L655.1 536.7 L655.1 543.4 L655.2 543.9 L655.2 551.2 L655.3 547.0 L655.4 545.1 L655.4 545.2 L655.5 535.9 L655.5 548.4 L655.6 550.9 L655.6 542.3 L655.7 537.9 L655.8 545.4 L655.8 549.0 L655.9 540.9 L655.9 540.8 L656.0 543.6 L656.0 552.3 L656.1 542.6 L656.2 548.4 L656.2 547.6 L656.3 548.3 L656.3 544.8 L656.4 544.7 L656.4 545.3 L656.5 539.9 L656.6 545.7 L656.6 546.2 L656.7 538.6 L656.7 542.8 L656.8 544.3 L656.8 539.8 L656.9 547.3 L656.9 537.3 L657.0 545.7 L657.1 548.7 L657.1 539.5 L657.2 548.0 L657.2 535.7 L657.3 539.0 L657.3 549.0 L657.4 552.4 L657.5 538.5 L657.5 537.2 L657.6 542.5 L657.6 547.0 L657.7 537.3 L657.7 546.0 L657.8 545.9 L657.8 541.1 L657.9 541.1 L658.0 542.4 L658.0 545.2 L658.1 541.8 L658.1 535.5 L658.2 544.2 L658.2 542.0 L658.3 550.6 L658.4 550.7 L658.4 541.1 L658.5 555.3 L658.5 546.3 L658.6 542.4 L658.6 550.2 L658.7 554.8 L658.7 549.0 L658.8 543.3 L658.9 552.1 L658.9 546.8 L659.0 550.9 L659.0 547.0 L659.1 538.3 L659.1 538.4 L659.2 550.2 L659.2 552.7 L659.3 547.8 L659.4 543.7 L659.4 540.0 L659.5 535.3 L659.5 546.7 L659.6 550.9 L659.6 551.9 L659.7 549.9 L659.7 544.4 L659.8 544.1 L659.9 545.5 L659.9 549.2 L660.0 554.7 L660.0 548.6 L660.1 552.4 L660.1 541.7 L660.2 544.6 L660.2 539.9 L660.3 538.4 L660.4 552.7 L660.4 547.3 L660.5 547.0 L660.5 542.2 L660.6 543.0 L660.6 541.0 L660.7 546.5 L660.7 550.8 L660.8 545.5 L660.9 550.7 L660.9 543.9 L661.0 545.3 L661.0 554.0 L661.1 549.9 L661.1 552.8 L661.2 544.0 L661.2 538.1 L661.3 548.3 L661.3 542.6 L661.4 540.6 L661.5 552.7 L661.5 538.6 L661.6 546.3 L661.6 543.2 L661.7 544.7 L661.7 547.3 L661.8 542.1 L661.8 544.4 L661.9 542.8 L662.0 546.8 L662.0 542.2 L662.1 545.1 L662.1 547.1 L662.2 548.9 L662.2 535.9 L662.3 534.1 L662.3 536.4 L662.4 555.9 L662.4 547.9 L662.5 551.6 L662.6 544.9 L662.6 537.9 L662.7 535.7 L662.7 548.3 L662.8 549.3 L662.8 554.1 L662.9 546.6 L662.9 535.7 L663.0 547.5 L663.0 545.9 L663.1 540.3 L663.2 537.6 L663.2 550.2 L663.3 544.2 L663.3 539.7 L663.4 553.4 L663.4 537.8 L663.5 553.3 L663.5 553.9 L663.6 545.5 L663.6 544.9 L663.7 548.2 L663.7 551.6 L663.8 556.9 L663.9 540.9 L663.9 548.6 L664.0 552.0 L664.0 543.6 L664.1 556.9 L664.1 543.3 L664.2 558.9 L664.2 551.0 L664.3 549.2 L664.3 548.2 L664.4 559.2 L664.5 555.3 L664.5 547.3 L664.6 549.5 L664.6 551.7 L664.7 557.0 L664.7 553.0 L664.8 547.9 L664.8 547.8 L664.9 549.8 L664.9 553.8 L665.0 558.9 L665.0 545.3 L665.1 557.2 L665.2 557.8 L665.2 543.3 L665.3 553.2 L665.3 557.7 L665.4 551.6 L665.4 544.2 L665.5 543.7 L665.5 555.5 L665.6 552.6 L665.6 555.4 L665.7 559.6 L665.7 558.2 L665.8 545.6 L665.8 556.8 L665.9 545.6 L666.0 557.9 L666.0 557.1 L666.1 550.6 L666.1 557.9 L666.2 553.1 L666.2 552.5 L666.3 550.3 L666.3 557.9 L666.4 549.8 L666.4 547.7 L666.5 549.9 L666.5 552.7 L666.6 546.6 L666.6 552.7 L666.7 545.7 L666.8 549.8 L666.8 549.4 L666.9 557.8 L666.9 553.2 L667.0 557.2 L667.0 559.9 L667.1 548.2 L667.1 547.5 L667.2 554.9 L667.2 554.9 L667.3 551.6 L667.3 556.9 L667.4 548.6 L667.4 553.9 L667.5 544.5 L667.5 551.9 L667.6 554.0 L667.7 552.7 L667.7 542.3 L667.8 546.1 L667.8 549.5 L667.9 551.1 L667.9 547.8 L668.0 544.7 L668.0 556.4 L668.1 550.4 L668.1 548.9 L668.2 554.9 L668.2 550.0 L668.3 555.0 L668.3 559.6 L668.4 549.4 L668.4 546.2 L668.5 553.1 L668.6 558.2 L668.6 550.7 L668.7 556.6 L668.7 546.4 L668.8 553.7 L668.8 546.5 L668.9 551.0 L668.9 552.6 L669.0 560.5 L669.0 547.6 L669.1 547.1 L669.1 550.3 L669.2 562.4 L669.2 554.8 L669.3 558.9 L669.3 555.6 L669.4 549.5 L669.4 545.0 L669.5 552.4 L669.5 546.3 L669.6 549.6 L669.7 557.4 L669.7 559.7 L669.8 558.6 L669.8 556.8 L669.9 551.9 L669.9 555.3 L670.0 545.7 L670.0 554.2 L670.1 546.9 L670.1 549.9 L670.2 543.5 L670.2 553.3 L670.3 547.1 L670.3 556.4 L670.4 548.3 L670.4 546.9 L670.5 555.1 L670.5 550.2 L670.6 554.0 L670.6 556.3 L670.7 559.5 L670.7 558.7 L670.8 555.4 L670.8 554.3 L670.9 559.1 L670.9 556.7 L671.0 556.3 L671.1 555.0 L671.1 551.5 L671.2 546.1 L671.2 557.7 L671.3 547.2 L671.3 544.7 L671.4 550.9 L671.4 546.0 L671.5 544.7 L671.5 548.7 L671.6 546.8 L671.6 556.1 L671.7 550.4 L671.7 556.1 L671.8 543.5 L671.8 548.6 L671.9 542.0 L671.9 558.4 L672.0 553.6 L672.0 552.2 L672.1 557.7 L672.1 549.9 L672.2 550.1 L672.2 555.6 L672.3 545.4 L672.3 550.2 L672.4 549.2 L672.4 546.7 L672.5 556.5 L672.5 547.2 L672.6 551.4 L672.6 557.5 L672.7 549.5 L672.8 555.5 L672.8 555.8 L672.9 555.8 L672.9 556.6 L673.0 546.8 L673.0 550.2 L673.1 555.1 L673.1 551.8 L673.2 549.1 L673.2 553.3 L673.3 557.5 L673.3 551.2 L673.4 555.3 L673.4 558.5 L673.5 551.4 L673.5 563.1 L673.6 553.5 L673.6 557.8 L673.7 551.4 L673.7 553.7 L673.8 551.1 L673.8 549.0 L673.9 551.5 L673.9 546.4 L674.0 552.6 L674.0 561.6 L674.1 552.9 L674.1 547.8 L674.2 547.3 L674.2 561.2 L674.3 559.7 L674.3 559.8 L674.4 552.9 L674.4 545.1 L674.5 560.6 L674.5 557.3 L674.6 554.0 L674.6 545.3 L674.7 547.1 L674.7 558.0 L674.8 553.8 L674.8 546.9 L674.9 558.0 L674.9 550.6 L675.0 561.5 L675.0 561.3 L675.1 561.2 L675.1 555.5 L675.2 558.2 L675.2 553.2 L675.3 560.7 L675.3 552.1 L675.4 550.0 L675.4 553.1 L675.5 545.9 L675.5 552.0 L675.6 545.1 L675.6 551.2 L675.7 561.3 L675.7 552.1 L675.8 561.4 L675.8 545.5 L675.9 551.4 L675.9 555.0 L676.0 558.7 L676.0 552.8 L676.1 547.3 L676.1 550.5 L676.2 559.3 L676.2 547.1 L676.3 557.3 L676.3 557.0 L676.4 558.8 L676.4 552.8 L676.5 554.0 L676.5 555.1 L676.6 546.4 L676.6 557.1 L676.7 554.3 L676.7 550.6 L676.8 547.2 L676.8 547.5 L676.9 561.3 L676.9 562.9 L677.0 553.7 L677.0 556.2 L677.1 560.5 L677.1 563.1 L677.2 548.3 L677.2 550.8 L677.3 565.0 L677.3 565.1 L677.4 551.7 L677.4 564.4 L677.5 559.0 L677.5 554.9 L677.6 553.1 L677.6 567.0 L677.7 558.7 L677.7 551.3 L677.8 563.5 L677.8 566.1 L677.9 563.2 L677.9 561.7 L678.0 557.8 L678.0 555.0 L678.1 551.2 L678.1 551.1 L678.2 556.3 L678.2 553.1 L678.3 562.3 L678.3 565.8 L678.4 552.1 L678.4 554.9 L678.5 564.6 L678.5 551.3 L678.6 559.2 L678.6 564.7 L678.7 556.7 L678.7 566.9 L678.8 554.1 L678.8 563.7 L678.9 562.8 L678.9 549.3 L679.0 565.7 L679.0 566.8 L679.1 559.9 L679.1 547.8 L679.2 556.6 L679.2 552.8 L679.3 557.1 L679.3 561.3 L679.4 556.4 L679.4 556.8 L679.5 560.6" fill="none" stroke="#10c610" stroke-width="3.2" stroke-linejoin="round"/>
<path d="M81.5 31.0 C82.6 34.7 85.6 45.1 88.0 53.0 C90.4 60.9 93.2 70.8 95.7 78.6 C98.2 86.4 100.7 93.7 102.9 100.0 C105.1 106.3 107.2 111.3 109.1 116.5 C111.0 121.7 112.4 126.3 114.3 131.0 C116.2 135.7 118.1 140.2 120.5 144.5 C122.9 148.8 126.1 153.3 128.8 156.9 C131.6 160.5 133.9 163.1 137.0 166.2 C140.1 169.3 144.0 172.6 147.4 175.5 C150.8 178.4 154.3 180.9 157.7 183.7 C161.1 186.4 164.6 189.1 168.0 192.0 C171.4 194.9 174.6 197.9 178.4 201.3 C182.2 204.8 186.4 208.6 190.8 212.7 C195.2 216.8 201.0 222.1 205.0 225.8 C209.0 229.5 207.5 227.8 215.0 235.0 C222.5 242.2 238.9 258.2 250.0 269.0 C261.1 279.8 273.8 292.3 281.5 300.0 C289.2 307.7 287.1 305.7 296.0 315.0 C304.9 324.3 326.8 347.1 335.0 355.8 C343.2 364.5 341.6 363.4 345.0 367.2 C348.4 371.0 352.0 374.6 355.7 378.6 C359.4 382.6 363.6 387.6 367.0 391.0 C370.4 394.4 372.8 396.6 376.4 399.3 C380.0 402.1 384.7 405.7 388.8 407.5 C392.9 409.3 396.4 410.0 401.2 410.2 C406.0 410.4 411.5 409.7 417.7 408.6 C423.9 407.5 431.5 404.9 438.4 403.4 C445.3 401.8 453.0 400.3 459.1 399.3 C465.2 398.3 469.5 397.7 475.0 397.2 C480.5 396.7 486.7 396.3 491.9 396.2 C497.1 396.1 500.5 396.1 506.4 396.6 C512.2 397.1 520.1 398.1 527.0 399.3 C533.9 400.5 542.5 402.8 547.7 404.0 C552.9 405.2 552.8 405.1 558.0 406.5 C563.2 407.9 572.2 410.9 578.7 412.3 C585.2 413.7 591.5 414.9 597.2 414.8 C602.9 414.8 607.8 413.6 613.0 412.0 C618.2 410.4 623.5 407.1 628.7 405.5 C633.9 403.9 640.9 403.1 644.4 402.6 C647.9 402.1 646.2 402.1 650.0 402.6 C653.8 403.2 662.2 404.6 666.9 405.9 C671.6 407.2 676.1 409.5 678.0 410.2" fill="none" stroke="#000" stroke-width="3"/>
<path d="M81.5 76.0 C81.6 76.5 81.5 74.7 82.3 78.7 C83.1 82.7 84.5 92.3 86.4 100.0 C88.3 107.7 91.8 118.1 93.6 124.8 C95.4 131.5 96.0 133.8 97.4 140.0 C98.8 146.2 100.1 154.2 101.9 162.0 C103.7 169.8 106.4 180.1 108.1 186.8 C109.8 193.5 109.8 191.9 112.2 202.0 C114.6 212.1 119.0 231.1 122.6 247.6 C126.2 264.1 128.9 275.6 133.9 301.0 C138.9 326.4 146.6 367.3 152.5 400.0 C158.4 432.7 166.3 480.8 169.1 497.0" fill="none" stroke="#e83828" stroke-width="3.2" stroke-dasharray="4.6 2.2 1 2.2"/>
<path d="M81.5 -6.0 L93.2 13.9 L105.0 32.5 L116.8 56.2 L128.8 78.2 L140.8 106.5 L152.5 133.1 L165.0 169.3 L176.3 213.0 L183.0 247.0 L188.4 291.0 L190.8 330.0 L192.3 380.0 L192.9 422.0 L193.5 380.0 L195.3 330.0 L199.7 295.5 L205.0 286.0 L211.5 282.7 L217.0 286.0 L223.6 295.0 L235.6 320.7 L247.8 369.9 L252.6 400.0 L256.0 440.0 L258.3 520.0 L259.8 470.0 L260.8 441.0 L262.5 428.0 L265.0 416.5 L268.0 410.0 L272.2 407.2 L277.0 410.0 L282.5 417.6 L289.0 436.0 L295.6 462.0 L298.5 480.0 L300.1 500.0 L304.7 540.0 L310.5 500.0 L313.0 497.0 L319.4 495.0 L322.0 497.0 L323.9 500.0 L326.0 520.0" fill="none" stroke="#848484" stroke-width="3" stroke-linejoin="round"/>
<circle cx="93.2" cy="13.9" r="3.9" fill="#828282"/>
<circle cx="105.1" cy="32.7" r="3.9" fill="#828282"/>
<circle cx="117.0" cy="56.6" r="3.9" fill="#828282"/>
<circle cx="128.9" cy="78.4" r="3.9" fill="#828282"/>
<circle cx="140.8" cy="106.5" r="3.9" fill="#828282"/>
<circle cx="152.7" cy="133.7" r="3.9" fill="#828282"/>
<circle cx="164.6" cy="168.1" r="3.9" fill="#828282"/>
<circle cx="176.5" cy="214.0" r="3.9" fill="#828282"/>
<circle cx="188.4" cy="291.0" r="3.9" fill="#828282"/>
<circle cx="200.3" cy="294.4" r="3.9" fill="#828282"/>
<circle cx="212.2" cy="283.1" r="3.9" fill="#828282"/>
<circle cx="224.1" cy="296.1" r="3.9" fill="#828282"/>
<circle cx="236.0" cy="322.3" r="3.9" fill="#828282"/>
<circle cx="247.9" cy="370.5" r="3.9" fill="#828282"/>
<circle cx="259.8" cy="470.0" r="3.9" fill="#828282"/>
<circle cx="271.7" cy="407.5" r="3.9" fill="#828282"/>
<circle cx="283.6" cy="420.7" r="3.9" fill="#828282"/>
<circle cx="295.5" cy="461.6" r="3.9" fill="#828282"/>
<circle cx="319.3" cy="495.0" r="3.9" fill="#828282"/>
</g>
<rect x="81.5" y="0.5" width="595.0" height="500.0" fill="none" stroke="#1c1c1c" stroke-width="1"/>
<path d="M193.5 500.5 v-3 M193.5 0.5 v3 M258.5 500.5 v-3 M258.5 0.5 v3 M304.5 500.5 v-3 M304.5 0.5 v3 M340.5 500.5 v-3 M340.5 0.5 v3 M370.5 500.5 v-3 M370.5 0.5 v3 M394.5 500.5 v-3 M394.5 0.5 v3 M416.5 500.5 v-3 M416.5 0.5 v3 M435.5 500.5 v-3 M435.5 0.5 v3 M452.5 500.5 v-6 M452.5 0.5 v6 M563.5 500.5 v-3 M563.5 0.5 v3 M629.5 500.5 v-3 M629.5 0.5 v3 M675.5 500.5 v-3 M675.5 0.5 v3 M81.5 470.5 h3 M676.5 470.5 h-3 M81.5 452.5 h3 M676.5 452.5 h-3 M81.5 440.5 h3 M676.5 440.5 h-3 M81.5 430.5 h3 M676.5 430.5 h-3 M81.5 422.5 h3 M676.5 422.5 h-3 M81.5 415.5 h3 M676.5 415.5 h-3 M81.5 410.5 h3 M676.5 410.5 h-3 M81.5 405.5 h3 M676.5 405.5 h-3 M81.5 400.5 h6 M676.5 400.5 h-6 M81.5 370.5 h3 M676.5 370.5 h-3 M81.5 352.5 h3 M676.5 352.5 h-3 M81.5 340.5 h3 M676.5 340.5 h-3 M81.5 330.5 h3 M676.5 330.5 h-3 M81.5 322.5 h3 M676.5 322.5 h-3 M81.5 315.5 h3 M676.5 315.5 h-3 M81.5 310.5 h3 M676.5 310.5 h-3 M81.5 305.5 h3 M676.5 305.5 h-3 M81.5 300.5 h6 M676.5 300.5 h-6 M81.5 270.5 h3 M676.5 270.5 h-3 M81.5 252.5 h3 M676.5 252.5 h-3 M81.5 240.5 h3 M676.5 240.5 h-3 M81.5 230.5 h3 M676.5 230.5 h-3 M81.5 222.5 h3 M676.5 222.5 h-3 M81.5 215.5 h3 M676.5 215.5 h-3 M81.5 210.5 h3 M676.5 210.5 h-3 M81.5 205.5 h3 M676.5 205.5 h-3 M81.5 200.5 h6 M676.5 200.5 h-6 M81.5 170.5 h3 M676.5 170.5 h-3 M81.5 152.5 h3 M676.5 152.5 h-3 M81.5 140.5 h3 M676.5 140.5 h-3 M81.5 130.5 h3 M676.5 130.5 h-3 M81.5 122.5 h3 M676.5 122.5 h-3 M81.5 115.5 h3 M676.5 115.5 h-3 M81.5 110.5 h3 M676.5 110.5 h-3 M81.5 105.5 h3 M676.5 105.5 h-3 M81.5 100.5 h6 M676.5 100.5 h-6 M81.5 70.5 h3 M676.5 70.5 h-3 M81.5 52.5 h3 M676.5 52.5 h-3 M81.5 40.5 h3 M676.5 40.5 h-3 M81.5 30.5 h3 M676.5 30.5 h-3 M81.5 22.5 h3 M676.5 22.5 h-3 M81.5 15.5 h3 M676.5 15.5 h-3 M81.5 10.5 h3 M676.5 10.5 h-3 M81.5 5.5 h3 M676.5 5.5 h-3" stroke="#1c1c1c" stroke-width="1" fill="none"/>
<rect x="392.5" y="6.5" width="278.5" height="156.7" fill="#fff" fill-opacity="0.82" stroke="#a2a2a2" stroke-width="1"/>
<path d="M398.8 20.0 H430.2" stroke="#000" stroke-width="2.6"/>
<path d="M400.6 45.7 H430.2" stroke="#a87414" stroke-width="3" stroke-dasharray="4 2.2"/>
<path d="M398.8 71.4 H430.2" stroke="#10c610" stroke-width="2.8"/>
<rect x="398.7" y="87.5" width="31.3" height="19.0" fill="#8fa3f3" stroke="#6878c8" stroke-width="0.7"/>
<path d="M398.8 122.7 H430.7" stroke="#e83828" stroke-width="3" stroke-dasharray="4.8 1.6 1 1.6"/>
<path d="M398.8 148.1 H430.2" stroke="#848484" stroke-width="2.6"/>
<circle cx="413.8" cy="148.1" r="4.1" fill="#828282"/>
<text x="433.7" y="27.9" font-size="21" class="t" textLength="48.2" lengthAdjust="spacing">ET-C</text>
<text x="433.7" y="53.6" font-size="21" class="t" textLength="116.7" lengthAdjust="spacing">Rayleigh NN</text>
<text x="433.7" y="79.3" font-size="21" class="t" textLength="231.2" lengthAdjust="spacing">Compressional-wave NN</text>
<text x="433.7" y="104.9" font-size="21" class="t" textLength="153.5" lengthAdjust="spacing">Infrasound noise</text>
<text x="433.7" y="130.6" font-size="21" class="t" textLength="124.2" lengthAdjust="spacing">Car, v=50m/s</text>
<text x="433.7" y="156.0" font-size="21" class="t" textLength="152.0" lengthAdjust="spacing">M=5 at r=100km</text>
<text x="32.4" y="507.8" font-size="19.5" class="t">10</text>
<text x="55.2" y="494.6" font-size="13" class="t">−25</text>
<text x="32.4" y="407.8" font-size="19.5" class="t">10</text>
<text x="55.2" y="394.6" font-size="13" class="t">−24</text>
<text x="32.4" y="307.8" font-size="19.5" class="t">10</text>
<text x="55.2" y="294.6" font-size="13" class="t">−23</text>
<text x="32.4" y="207.8" font-size="19.5" class="t">10</text>
<text x="55.2" y="194.6" font-size="13" class="t">−22</text>
<text x="32.4" y="107.8" font-size="19.5" class="t">10</text>
<text x="55.2" y="94.6" font-size="13" class="t">−21</text>
<text x="67.5" y="529.3" font-size="19.5" class="t">10</text>
<text x="90.1" y="517.3" font-size="13" class="t">0</text>
<text x="438.3" y="529.3" font-size="19.5" class="t">10</text>
<text x="460.9" y="517.3" font-size="13" class="t">1</text>
<text x="308.8" y="550" font-size="20" class="t" textLength="141.6" lengthAdjust="spacingAndGlyphs">Frequency [Hz]</text>
<g transform="translate(19.6 347.3) rotate(-90)">
<text x="0" y="0" font-size="20.3" class="t" textLength="111" lengthAdjust="spacingAndGlyphs">Strain noise</text>
<text x="118.2" y="0" font-size="20.3" class="t" textLength="25.3" lengthAdjust="spacingAndGlyphs">[1/</text>
<path d="M144 -9.5 L146.5 -10.5 L151.1 -0.7" fill="none" stroke="#111" stroke-width="1.5" stroke-linejoin="miter"/>
<path d="M151.1 -0.7 L154.1 -19.6" fill="none" stroke="#111" stroke-width="0.9"/>
<text x="161.2" y="0" font-size="20.3" class="t" textLength="29.8" lengthAdjust="spacingAndGlyphs">Hz]</text>
</g>
</svg>
</body></html>
